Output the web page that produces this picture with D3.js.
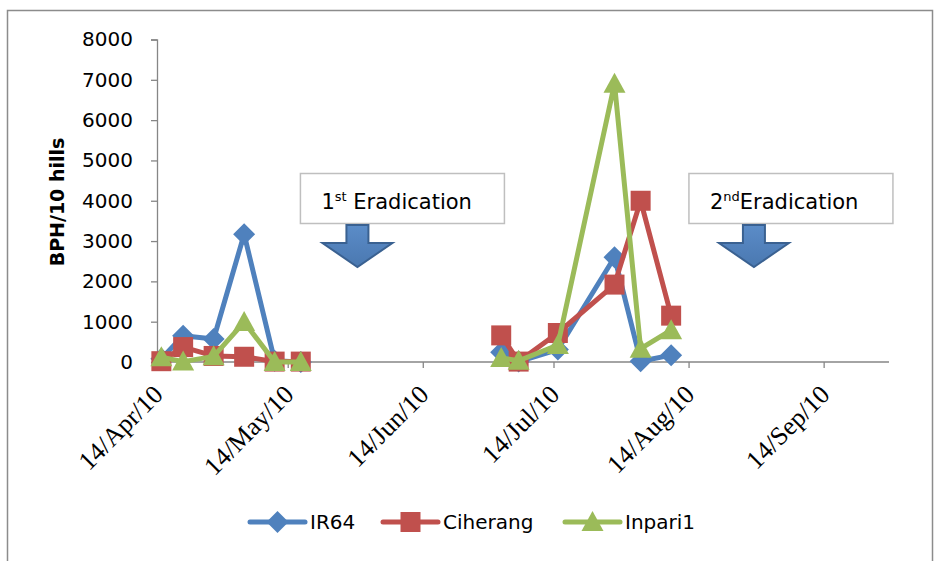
<html>
<head>
<script src="https://d3js.org/d3.v7.min.js"></script>
<style>
  body { margin: 0; background: white; }
  svg text { fill: #000; }
</style>
</head>
<body>
<div id="chart"></div>
<script>
// sampling dates (two seasons, gap between them)
var season1Dates = ["2010-04-15", "2010-04-20", "2010-04-27", "2010-05-04", "2010-05-11", "2010-05-17"];
var season2Dates = ["2010-07-02", "2010-07-06", "2010-07-15", "2010-07-28", "2010-08-03", "2010-08-10"];

var seriesNames = ["IR64", "Ciherang", "Inpari1"];
var ir64Values     = [[80, 650, 570, 3170, 30, 0], [240, 10, 310, 2600, 20, 170]];
var ciherangValues = [[20, 370, 150, 130, 10, 10], [660, 10, 720, 1920, 4000, 1150]];
var inpari1Values  = [[120, 10, 140, 990, 0, 0], [100, 30, 420, 6900, 330, 790]];

var xTickDates  = ["2010-04-14", "2010-05-14", "2010-06-14", "2010-07-14", "2010-08-14", "2010-09-14"];
var xTickLabels = ["14/Apr/10", "14/May/10", "14/Jun/10", "14/Jul/10", "14/Aug/10", "14/Sep/10"];
var yTicks = [0, 1000, 2000, 3000, 4000, 5000, 6000, 7000, 8000];

var eradicationDates = ["2010-05-30", "2010-08-29"];
var eradicationNum = ["1", "2"];
var eradicationSup = ["st", "nd"];

var width = 938, height = 561;
var colors = ["#4f81bd", "#c0504d", "#9bbb59"];
var shapes = ["diamond", "square", "triangle"];
var parse = d3.utcParse("%Y-%m-%d");

var x = d3.scaleUtc()
    .domain([parse("2010-04-14"), parse("2010-09-29")])
    .range([157, 889]);
var y = d3.scaleLinear().domain([0, 8000]).range([362, 39.5]);

var svg = d3.select("#chart").append("svg")
    .attr("width", width).attr("height", height);

// outer chart border
svg.append("rect")
    .attr("x", 7.5).attr("y", 10.5)
    .attr("width", 925).attr("height", 560)
    .attr("fill", "white").attr("stroke", "#8c8c8c").attr("stroke-width", 1.5);

// y axis
var yAxis = svg.append("g")
    .attr("transform", "translate(157,0)")
    .call(d3.axisLeft(y).tickValues(yTicks).tickSize(6).tickPadding(18).tickFormat(d3.format("d")));
yAxis.selectAll("path, line").attr("stroke", "#868686").attr("stroke-width", 1.3);
yAxis.selectAll("text")
    .attr("font-family", "DejaVu Sans").attr("font-size", 20).attr("fill", "#000");

svg.append("text")
    .attr("transform", "translate(57,202) rotate(-90)")
    .attr("text-anchor", "middle")
    .attr("dominant-baseline", "central")
    .attr("font-family", "DejaVu Sans").attr("font-weight", "bold").attr("font-size", 19)
    .text("BPH/10 hills");

// x axis
var xAxis = svg.append("g")
    .attr("transform", "translate(0,362)")
    .call(d3.axisBottom(x).tickValues(xTickDates.map(parse)).tickSize(6)
        .tickFormat(function (d, i) { return xTickLabels[i]; }));
xAxis.select(".domain").attr("d", "M157,0H889");
xAxis.selectAll("path, line").attr("stroke", "#868686").attr("stroke-width", 1.3);
xAxis.selectAll("text")
    .attr("font-family", "Liberation Serif").attr("font-size", 26).attr("fill", "#000")
    .attr("text-anchor", "end")
    .attr("dy", null).attr("y", null)
    .attr("transform", "translate(7,34) rotate(-45)");

// series
var allValues = [ir64Values, ciherangValues, inpari1Values];
var series = seriesNames.map(function (name, i) {
    return {
        name: name,
        color: colors[i],
        shape: shapes[i],
        segments: [season1Dates, season2Dates].map(function (dates, s) {
            return dates.map(function (d, j) { return { date: parse(d), value: allValues[i][s][j] }; });
        })
    };
});

var line = d3.line()
    .x(function (d) { return x(d.date); })
    .y(function (d) { return y(d.value); });

function markerPath(shape) {
    if (shape === "diamond") return "M0,-11L11,0L0,11L-11,0Z";
    if (shape === "square") return "M-10,-10H10V10H-10Z";
    return "M0,-11L11,9H-11Z";
}

var g = svg.selectAll(".series").data(series).enter().append("g").attr("class", "series");

g.each(function (s) {
    var sel = d3.select(this);
    sel.selectAll("path.line").data(s.segments).enter().append("path")
        .attr("class", "line")
        .attr("d", line)
        .attr("fill", "none")
        .attr("stroke", s.color)
        .attr("stroke-width", 5)
        .attr("stroke-linejoin", "round");
    var pts = s.segments[0].concat(s.segments[1]);
    sel.selectAll("path.mark").data(pts).enter().append("path")
        .attr("class", "mark")
        .attr("d", markerPath(s.shape))
        .attr("transform", function (d) { return "translate(" + x(d.date) + "," + y(d.value) + ")"; })
        .attr("fill", s.color);
});

// eradication annotations
var boxOffset = [-57, -65];
var ann = svg.selectAll(".ann").data(eradicationDates).enter().append("g")
    .attr("class", "ann")
    .attr("transform", function (d) { return "translate(" + x(parse(d)) + ",0)"; });

ann.append("rect")
    .attr("x", function (d, i) { return boxOffset[i]; }).attr("y", 173.5)
    .attr("width", 204).attr("height", 50)
    .attr("fill", "white").attr("stroke", "#bfbfbf").attr("stroke-width", 1.5);

var label = ann.append("text")
    .attr("x", function (d, i) { return boxOffset[i] + 21; }).attr("y", 209)
    .attr("font-family", "DejaVu Sans").attr("font-size", 21);
label.append("tspan").text(function (d, i) { return eradicationNum[i]; });
label.append("tspan").attr("dy", -8).attr("font-size", 13).text(function (d, i) { return eradicationSup[i]; });
label.append("tspan").attr("dy", 8).text(function (d, i) { return (i === 0 ? " " : "") + "Eradication"; });

var grad = svg.append("defs").append("linearGradient")
    .attr("id", "arrowFill").attr("x1", 0).attr("y1", 0).attr("x2", 0).attr("y2", 1);
grad.append("stop").attr("offset", "0%").attr("stop-color", "#5b8cc8");
grad.append("stop").attr("offset", "100%").attr("stop-color", "#4a78b0");

ann.append("path")
    .attr("d", "M-11,225V243H-35L0,267L35,243H11V225Z")
    .attr("fill", "url(#arrowFill)")
    .attr("stroke", "#3a6191").attr("stroke-width", 2)
    .attr("stroke-linejoin", "miter");

// legend
var legendX = [250, 383, 565];
var leg = svg.selectAll(".legend").data(series).enter().append("g")
    .attr("class", "legend")
    .attr("transform", function (d, i) { return "translate(" + legendX[i] + ",522)"; });
leg.append("line")
    .attr("x1", 0).attr("x2", 55)
    .attr("stroke", function (d) { return d.color; })
    .attr("stroke-width", 5).attr("stroke-linecap", "round");
leg.append("path")
    .attr("d", function (d) { return markerPath(d.shape); })
    .attr("transform", "translate(27.5,0)")
    .attr("fill", function (d) { return d.color; });
leg.append("text")
    .attr("x", 60).attr("y", 7)
    .attr("font-family", "DejaVu Sans").attr("font-size", 20)
    .text(function (d) { return d.name; });
</script>
</body>
</html>
